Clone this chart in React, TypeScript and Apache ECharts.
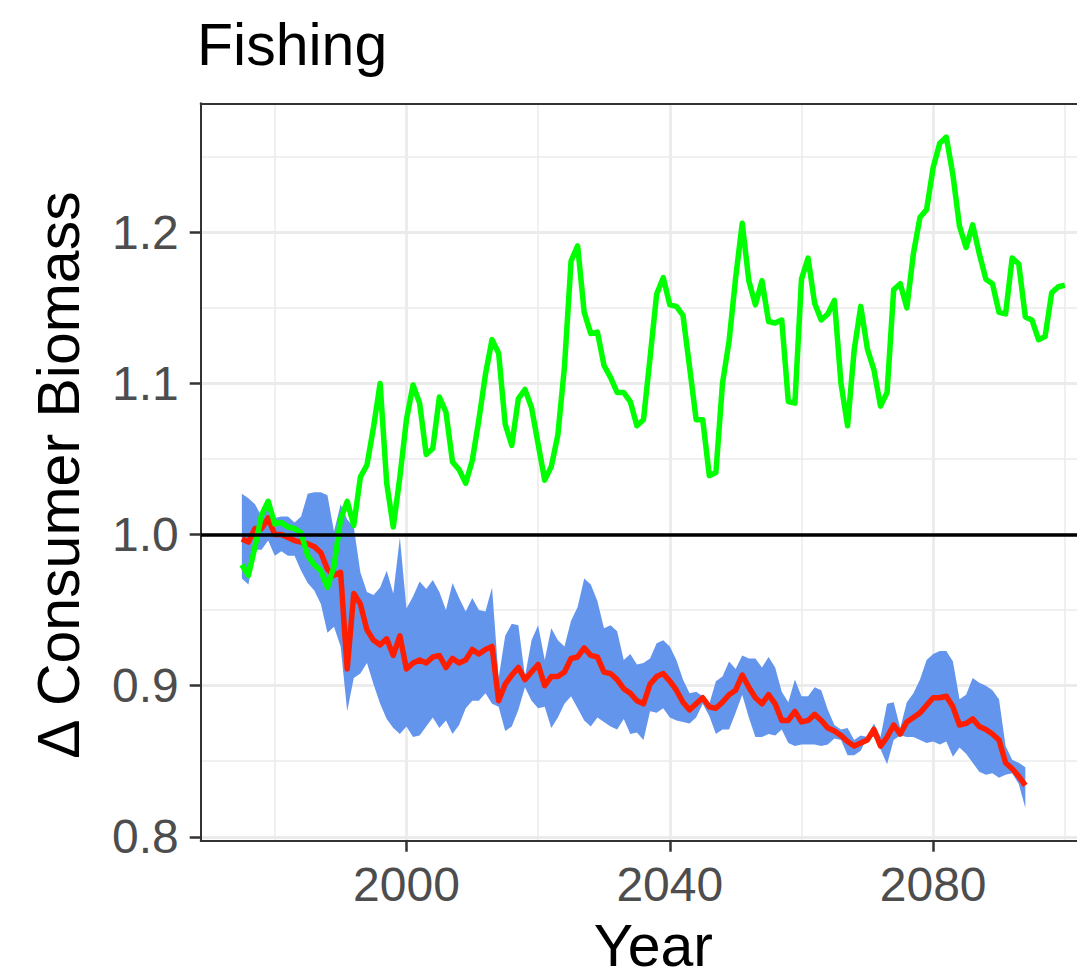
import { useEffect, useRef } from "react";
import * as echarts from "echarts";

const FONT = "'Liberation Sans', Arial, Helvetica, sans-serif";

// ---- data ----
const GREEN_START = 1975;
const greenValues = [
  0.980, 0.973, 0.992, 1.013, 1.022, 1.007, 1.008, 1.005, 1.004, 1.001,
  0.986, 0.980, 0.976, 0.965, 0.979, 1.010, 1.022, 1.006, 1.038, 1.046,
  1.071, 1.100, 1.034, 1.005, 1.038, 1.076, 1.099, 1.087, 1.053, 1.057,
  1.091, 1.081, 1.048, 1.043, 1.034, 1.049, 1.076, 1.106, 1.129, 1.120,
  1.073, 1.059, 1.090, 1.096, 1.084, 1.060, 1.036, 1.045, 1.066, 1.111,
  1.181, 1.191, 1.147, 1.133, 1.134, 1.112, 1.104, 1.094, 1.094, 1.088,
  1.072, 1.076, 1.117, 1.159, 1.170, 1.152, 1.151, 1.145, 1.111, 1.076,
  1.076, 1.039, 1.041, 1.100, 1.128, 1.170, 1.206, 1.168, 1.152, 1.168,
  1.141, 1.140, 1.142, 1.088, 1.087, 1.169, 1.183, 1.153, 1.142, 1.146,
  1.155, 1.100, 1.072, 1.122, 1.151, 1.123, 1.109, 1.085, 1.094, 1.162,
  1.166, 1.150, 1.186, 1.210, 1.215, 1.243, 1.259, 1.263, 1.238, 1.204,
  1.190, 1.205, 1.186, 1.169, 1.166, 1.147, 1.146, 1.183, 1.179, 1.144,
  1.142, 1.129, 1.131, 1.160, 1.164, 1.165,
];

const RED_START = 1975;
const redValues = [
  0.997, 0.995, 1.004, 1.004, 1.011, 1.000, 1.000, 0.998, 0.996, 0.995,
  0.994, 0.992, 0.988, 0.977, 0.973, 0.975, 0.911, 0.961, 0.954, 0.937,
  0.930, 0.927, 0.931, 0.920, 0.933, 0.911, 0.915, 0.917, 0.915, 0.919,
  0.920, 0.912, 0.918, 0.915, 0.917, 0.924, 0.921, 0.924, 0.926, 0.890,
  0.901, 0.907, 0.912, 0.904, 0.909, 0.914, 0.900, 0.906, 0.906, 0.909,
  0.918, 0.919, 0.925, 0.920, 0.919, 0.909, 0.908, 0.904, 0.898, 0.895,
  0.890, 0.888, 0.901, 0.906, 0.908, 0.903, 0.897, 0.889, 0.884, 0.888,
  0.892, 0.886, 0.885, 0.889, 0.894, 0.897, 0.907, 0.899, 0.892, 0.888,
  0.894, 0.888, 0.877, 0.877, 0.883, 0.876, 0.877, 0.881, 0.877, 0.872,
  0.870, 0.867, 0.863, 0.860, 0.862, 0.864, 0.871, 0.860, 0.866, 0.874,
  0.868, 0.876, 0.879, 0.882, 0.887, 0.892, 0.892, 0.893, 0.886, 0.874,
  0.875, 0.878, 0.873, 0.871, 0.868, 0.864, 0.849, 0.845, 0.840, 0.834,
];

const bandUpper = [
  1.027, 1.024, 1.020, 1.012, 1.024, 1.011, 1.012, 1.012, 1.008, 1.012,
  1.027, 1.028, 1.028, 1.026, 1.002, 1.020, 1.010, 1.005, 0.975, 0.962,
  0.960, 0.965, 0.976, 0.961, 0.998, 0.951, 0.959, 0.969, 0.964, 0.970,
  0.962, 0.950, 0.968, 0.958, 0.949, 0.958, 0.950, 0.949, 0.965, 0.905,
  0.933, 0.941, 0.940, 0.906, 0.930, 0.940, 0.917, 0.938, 0.930, 0.926,
  0.943, 0.952, 0.971, 0.967, 0.956, 0.938, 0.940, 0.936, 0.917, 0.921,
  0.914, 0.915, 0.918, 0.928, 0.930, 0.926, 0.917, 0.904, 0.895, 0.896,
  0.893, 0.888, 0.903, 0.906, 0.916, 0.911, 0.920, 0.918, 0.918, 0.912,
  0.919, 0.912, 0.896, 0.889, 0.904, 0.893, 0.893, 0.899, 0.897, 0.884,
  0.874, 0.871, 0.872, 0.864, 0.867, 0.866, 0.875, 0.866, 0.888, 0.889,
  0.872, 0.889, 0.895, 0.904, 0.917, 0.921, 0.923, 0.923, 0.916, 0.891,
  0.894, 0.905, 0.902, 0.900, 0.897, 0.891, 0.860, 0.851, 0.849, 0.846,
];

const bandLower = [
  0.971, 0.967, 0.990, 0.990, 0.996, 0.986, 0.989, 0.986, 0.986, 0.976,
  0.968, 0.963, 0.954, 0.935, 0.939, 0.926, 0.883, 0.905, 0.908, 0.915,
  0.901, 0.888, 0.878, 0.872, 0.868, 0.873, 0.866, 0.867, 0.873, 0.879,
  0.872, 0.877, 0.868, 0.874, 0.885, 0.890, 0.890, 0.895, 0.888, 0.886,
  0.870, 0.873, 0.884, 0.899, 0.890, 0.885, 0.886, 0.872, 0.879, 0.888,
  0.893, 0.885, 0.877, 0.873, 0.879, 0.876, 0.873, 0.871, 0.878, 0.868,
  0.869, 0.864, 0.883, 0.882, 0.885, 0.879, 0.877, 0.876, 0.875, 0.879,
  0.888, 0.880, 0.868, 0.871, 0.871, 0.882, 0.894, 0.879, 0.866, 0.866,
  0.868, 0.867, 0.871, 0.862, 0.860, 0.861, 0.861, 0.861, 0.860, 0.861,
  0.865, 0.864, 0.854, 0.854, 0.857, 0.866, 0.866, 0.858, 0.848, 0.864,
  0.867, 0.866, 0.866, 0.864, 0.862, 0.863, 0.861, 0.863, 0.853, 0.859,
  0.855, 0.849, 0.843, 0.841, 0.842, 0.839, 0.841, 0.842, 0.835, 0.819,
];

const xMajorTicks = [2000, 2040, 2080];
const xMinorTicks = [1980, 2020, 2060, 2100];
const yMajorTicks = [0.8, 0.9, 1.0, 1.1, 1.2];
const yMinorTicks = [0.85, 0.95, 1.05, 1.15, 1.25];
const referenceLevel = 1.0;

const X_MIN = 1968.75;
const X_MAX = 2106.25;
const Y_MIN = 0.7974;
const Y_MAX = 1.2854;

export default function App() {
  const ref = useRef<HTMLDivElement>(null);

  useEffect(() => {
    if (!ref.current) return;
    const chart = echarts.init(ref.current, null, { renderer: "svg" });

    const greenData = greenValues.map((v, i) => [GREEN_START + i, v]);
    const redData = redValues.map((v, i) => [RED_START + i, v]);
    const bandData = bandUpper.map((u, i) => [RED_START + i, bandLower[i], u]);

    const gridColor = "#EBEBEB";
    const darkColor = "#333333";

    const option: any = {
      animation: false,
      backgroundColor: "#ffffff",
      title: {
        text: "Fishing",
        left: 197,
        top: 15,
        padding: 0,
        textStyle: { fontSize: 59, fontWeight: "normal", color: "#000", fontFamily: FONT },
      },
      grid: {
        left: 200.7,
        top: 103.3,
        width: 905.3,
        height: 737.4,
        containLabel: false,
        outerBoundsMode: "none",
      },
      xAxis: [
        {
          type: "value",
          min: X_MIN,
          max: X_MAX,
          position: "bottom",
          axisLine: { show: true, onZero: false, lineStyle: { color: darkColor, width: 2 } },
          axisTick: { show: true, length: 11, customValues: xMajorTicks, lineStyle: { color: darkColor, width: 2.5 } },
          axisLabel: {
            show: true,
            customValues: xMajorTicks,
            fontSize: 48,
            color: "#4D4D4D",
            margin: 20,
            fontFamily: FONT,
            formatter: (v: number) => String(v),
          },
          splitLine: { show: true, lineStyle: { color: gridColor, width: 2.8 } },
          name: "Year",
          nameLocation: "middle",
          nameGap: 83,
          nameTextStyle: { fontSize: 59, lineHeight: 44, color: "#000", fontFamily: FONT },
        },
        {
          type: "value",
          min: X_MIN,
          max: X_MAX,
          position: "top",
          axisLine: { show: true, onZero: false, lineStyle: { color: darkColor, width: 2 } },
          axisTick: { show: false, customValues: xMinorTicks },
          axisLabel: { show: false },
          splitLine: { show: true, lineStyle: { color: gridColor, width: 1.5 } },
        },
      ],
      yAxis: [
        {
          type: "value",
          min: Y_MIN,
          max: Y_MAX,
          position: "left",
          axisLine: { show: true, onZero: false, lineStyle: { color: darkColor, width: 2 } },
          axisTick: { show: true, length: 11, customValues: yMajorTicks, lineStyle: { color: darkColor, width: 2.5 } },
          axisLabel: {
            show: true,
            customValues: yMajorTicks,
            fontSize: 48,
            color: "#4D4D4D",
            margin: 22,
            fontFamily: FONT,
            formatter: (v: number) => v.toFixed(1),
          },
          splitLine: { show: true, lineStyle: { color: gridColor, width: 2.8 } },
        },
        {
          type: "value",
          min: Y_MIN,
          max: Y_MAX,
          position: "right",
          axisLine: { show: false },
          axisTick: { show: false, customValues: yMinorTicks },
          axisLabel: { show: false },
          splitLine: { show: true, lineStyle: { color: gridColor, width: 1.5 } },
        },
      ],
      graphic: [
        {
          type: "text",
          x: 59,
          y: 475,
          rotation: Math.PI / 2,
          style: {
            text: "\u0394 Consumer Biomass",
            fontSize: 59,
            fontFamily: FONT,
            fill: "#000",
            align: "center",
            verticalAlign: "middle",
          },
        },
      ],
      series: [
        {
          type: "custom",
          name: "band",
          xAxisIndex: 0,
          yAxisIndex: 0,
          data: bandData,
          encode: { x: 0, y: [1, 2] },
          renderItem: (params: any, api: any) => {
            if (params.dataIndex !== 0) return null;
            const pts: number[][] = [];
            for (let i = 0; i < bandData.length; i++) pts.push(api.coord([bandData[i][0], bandData[i][2]]));
            for (let i = bandData.length - 1; i >= 0; i--) pts.push(api.coord([bandData[i][0], bandData[i][1]]));
            return { type: "polygon", shape: { points: pts }, style: { fill: "#6495ED" } };
          },
          silent: true,
        },
        {
          type: "line",
          name: "red",
          xAxisIndex: 0,
          yAxisIndex: 0,
          data: redData,
          showSymbol: false,
          symbol: "none",
          lineStyle: { color: "#FF1E00", width: 5.5, join: "round" },
          silent: true,
        },
        {
          type: "line",
          name: "green",
          xAxisIndex: 0,
          yAxisIndex: 0,
          data: greenData,
          showSymbol: false,
          symbol: "none",
          lineStyle: { color: "#00FF00", width: 5.5, join: "round" },
          silent: true,
        },
        {
          type: "line",
          name: "ref",
          xAxisIndex: 0,
          yAxisIndex: 0,
          data: [],
          markLine: {
            silent: true,
            symbol: "none",
            label: { show: false },
            lineStyle: { color: "#000", width: 3.5, type: "solid" },
            data: [{ yAxis: referenceLevel }],
          },
        },
      ],
    };

    chart.setOption(option);
    return () => chart.dispose();
  }, []);

  return (
    <div
      ref={ref}
      style={{ position: "fixed", left: 0, top: 0, width: 1077, height: 970, background: "#fff" }}
    />
  );
}
